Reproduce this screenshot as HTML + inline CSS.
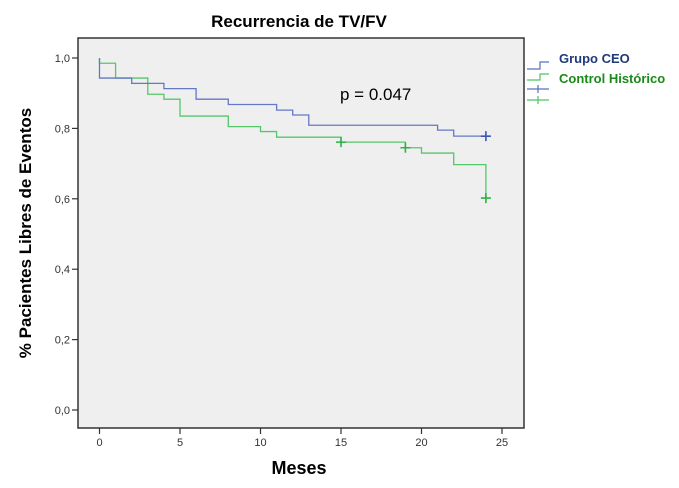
<!DOCTYPE html>
<html><head><meta charset="utf-8"><style>
body{margin:0;background:#fff;width:679px;height:483px;overflow:hidden;font-family:"Liberation Sans",sans-serif}
</style></head><body>
<svg width="679" height="483" xmlns="http://www.w3.org/2000/svg">
<text x="299" y="27" text-anchor="middle" font-size="17" font-weight="bold" fill="#000">Recurrencia de TV/FV</text>
<rect x="78" y="38" width="446" height="390" fill="#efefef" stroke="#333" stroke-width="1.5"/>
<g id="axes"></g>
<g id="series"></g>
<text x="340" y="100" font-size="17" fill="#000">p = 0.047</text>
<text x="299" y="474" text-anchor="middle" font-size="18" font-weight="bold" fill="#000">Meses</text>
<text transform="translate(31,233) rotate(-90)" text-anchor="middle" font-size="17" font-weight="bold" fill="#000">% Pacientes Libres de Eventos</text>
<g>
<path d="M527 69 H540 V62 H549" fill="none" stroke="#5a6fc0" stroke-width="1.2"/>
<path d="M527 80 H540 V74 H549" fill="none" stroke="#4cc560" stroke-width="1.2"/>
<path d="M527 89 H549 M538 85 V93" stroke="#5a6fc0" stroke-width="1.2"/>
<path d="M527 100 H549 M538 96 V104" stroke="#4cc560" stroke-width="1.2"/>
<text x="559" y="63" font-size="13" font-weight="bold" fill="#1f3a78">Grupo CEO</text>
<text x="559" y="83" font-size="13" font-weight="bold" fill="#1a8a1a">Control Histórico</text>
</g>
</svg>
<script>
const xTicks=[0,5,10,15,20,25];
const yTicks=[0,0.2,0.4,0.6,0.8,1.0];
const ceoTimes=[0,0,2,4,6,8,11,12,13,21,22,24];
const ceoSurv=[1.0,0.943,0.928,0.913,0.883,0.868,0.852,0.838,0.809,0.795,0.778,0.778];
const ceoCensor=[24];
const ctlTimes=[0,0,1,3,4,5,8,10,11,15,19,20,22,24];
const ctlSurv=[1.0,0.985,0.943,0.897,0.883,0.835,0.805,0.791,0.775,0.761,0.745,0.730,0.697,0.602];
const ctlCensor=[15,19,24];
const X=t=>99.5+t*16.1;
const Y=v=>410-v*352;
const NS="http://www.w3.org/2000/svg";
const ax=document.getElementById('axes');
function mk(tag,attrs,parent){const e=document.createElementNS(NS,tag);for(const k in attrs)e.setAttribute(k,attrs[k]);parent.appendChild(e);return e;}
xTicks.forEach(t=>{
 const l=mk('line',{x1:X(t),x2:X(t),y1:428,y2:434,stroke:'#333','stroke-width':1.2},ax);
 
 
 const tx=mk('text',{x:X(t),y:446,'text-anchor':'middle','font-size':11,fill:'#333'},ax);tx.textContent=t;
 
 
});
yTicks.forEach(v=>{
 const l=mk('line',{x1:72,x2:78,y1:Y(v),y2:Y(v),stroke:'#333','stroke-width':1.2},ax);
 
 
 const tx=mk('text',{x:70,y:Y(v)+4,'text-anchor':'end','font-size':11,fill:'#333'},ax);tx.textContent=v.toFixed(1).replace('.',',');
 
 
});
const sg=document.getElementById('series');
function step(times,surv){let d='M'+X(times[0])+' '+Y(surv[0]);for(let i=1;i<times.length;i++){d+=' H'+X(times[i])+' V'+Y(surv[i]);}return d;}
function survAt(times,surv,t){let s=surv[0];for(let i=0;i<times.length;i++){if(times[i]<=t)s=surv[i];}return s;}
function draw(times,surv,cens,color,name,cc){
 const p=mk('path',{d:step(times,surv),fill:'none',stroke:color,'stroke-width':1.3},sg);
 
 
 cens.forEach(t=>{const x=X(t),y=Y(survAt(times,surv,t));
  const c=mk('path',{d:`M${x-5} ${y} H${x+5} M${x} ${y-5} V${y+5}`,stroke:cc,'stroke-width':1.6},sg);
  
  });
}
draw(ctlTimes,ctlSurv,ctlCensor,'#55c76a','control',  '#2fb045');
draw(ceoTimes,ceoSurv,ceoCensor,'#6478c4','ceo','#3a55b5');
</script>
</body></html>
